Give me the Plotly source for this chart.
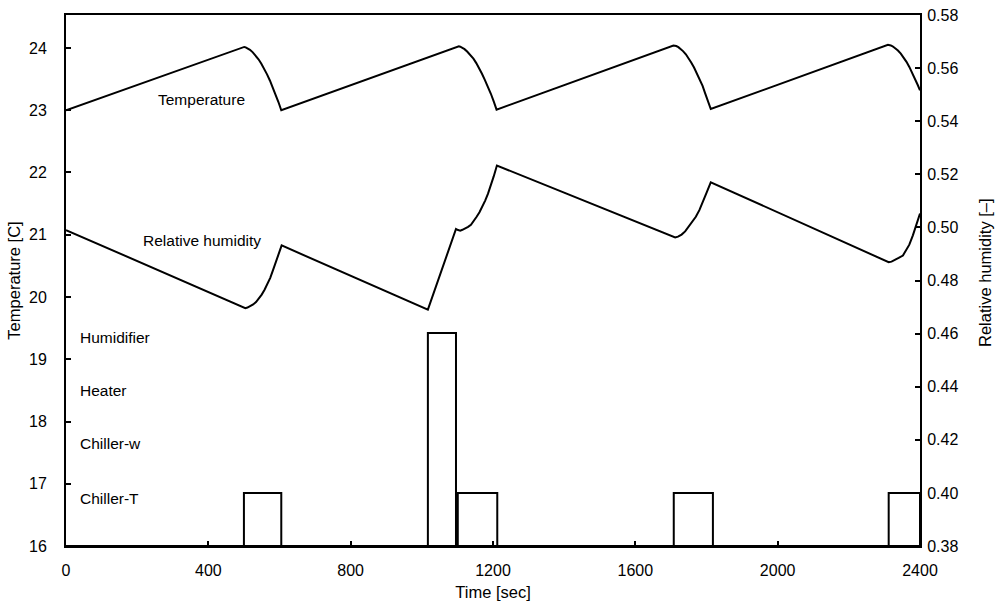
import plotly.graph_objects as go

# ---------------- data ----------------
time_T = [0,
          497, 501, 505, 511, 517, 525, 533, 541, 549, 557, 565, 573, 581, 589, 597, 605,
          1100, 1104, 1108, 1114, 1120, 1128, 1137, 1145, 1153, 1161, 1169, 1177, 1186, 1194, 1202, 1210,
          1707, 1711, 1715, 1721, 1727, 1734, 1742, 1750, 1757, 1765, 1773, 1781, 1789, 1796, 1804, 1812,
          2310, 2314, 2318, 2324, 2330, 2338, 2346, 2354, 2362, 2370, 2378, 2386, 2394, 2400]
temperature = [23.00,
               24.020, 24.017, 24.011, 23.994, 23.971, 23.930, 23.879, 23.818, 23.747, 23.666, 23.576, 23.478, 23.371, 23.255, 23.132, 23.000,
               24.030, 24.027, 24.021, 24.004, 23.981, 23.940, 23.889, 23.828, 23.757, 23.676, 23.586, 23.488, 23.381, 23.265, 23.142, 23.010,
               24.040, 24.037, 24.031, 24.014, 23.991, 23.950, 23.899, 23.838, 23.767, 23.686, 23.596, 23.498, 23.391, 23.275, 23.152, 23.020,
               24.050, 24.047, 24.041, 24.024, 24.001, 23.960, 23.909, 23.848, 23.777, 23.696, 23.606, 23.508, 23.401, 23.320]

time_RH = [0,
           497, 500, 504, 510, 518, 526, 534, 542, 550, 558, 566, 574, 582, 590, 598, 606,
           1017, 1096, 1100, 1104, 1108, 1114, 1122, 1130, 1138, 1146, 1154, 1162, 1170, 1178, 1186, 1194, 1202, 1211,
           1700, 1706, 1712, 1720, 1730, 1740, 1750, 1762, 1770, 1780, 1790, 1800, 1812,
           2300, 2306, 2312, 2320, 2330, 2340, 2352, 2360, 2370, 2380, 2390, 2400]
rel_humidity = [0.4990,
                0.4703, 0.4699, 0.4696, 0.4698, 0.4703, 0.4710, 0.4719, 0.4731, 0.4747, 0.4765, 0.4786, 0.4810, 0.4840, 0.4872, 0.4903, 0.4932,
                0.4690, 0.4994, 0.4991, 0.4988, 0.4988, 0.4991, 0.4996, 0.5002, 0.5010, 0.5024, 0.5040, 0.5057, 0.5077, 0.5101, 0.5127, 0.5158, 0.5192, 0.5233,
                0.4968, 0.4964, 0.4962, 0.4965, 0.4973, 0.4985, 0.5002, 0.5024, 0.5040, 0.5065, 0.5095, 0.5130, 0.5170,
                0.4875, 0.4871, 0.4869, 0.4871, 0.4877, 0.4885, 0.4894, 0.4910, 0.4935, 0.4970, 0.5012, 0.5052]

chillerT_on = [500, 1101, 1708, 2312]
chillerT_off = [605, 1212, 1818, 2400]
chillerT_level = 16.85

humidifier_on = [1017]
humidifier_off = [1096]
humidifier_level = 19.42

signal_base = 16.0
t_start, t_end = 0, 2400

x_ticks = [0, 400, 800, 1200, 1600, 2000, 2400]
y1_ticks = [16, 17, 18, 19, 20, 21, 22, 23, 24]
y2_ticks = [0.38, 0.40, 0.42, 0.44, 0.46, 0.48, 0.50, 0.52, 0.54, 0.56, 0.58]
y2_ticklabels = ["0.38", "0.40", "0.42", "0.44", "0.46", "0.48", "0.50", "0.52", "0.54", "0.56", "0.58"]

label_names = ["Humidifier", "Heater", "Chiller-w", "Chiller-T"]
label_levels = [19.35, 18.5, 17.64, 16.77]


def step_series(ons, offs, level):
    xs, ys = [t_start], [signal_base]
    for a, b in zip(ons, offs):
        xs += [a, a, b, b]
        ys += [signal_base, level, level, signal_base]
    xs.append(t_end)
    ys.append(signal_base)
    return xs, ys


FONT = "Liberation Sans, Arial, sans-serif"
line_style = dict(color="black", width=2)

fig = go.Figure()
fig.add_trace(go.Scatter(x=time_T, y=temperature, mode="lines", line=line_style,
                         name="Temperature"))
fig.add_trace(go.Scatter(x=time_RH, y=rel_humidity, mode="lines", line=line_style,
                         yaxis="y2", name="Relative humidity"))
cx, cy = step_series(chillerT_on, chillerT_off, chillerT_level)
fig.add_trace(go.Scatter(x=cx, y=cy, mode="lines", line=line_style, name="Chiller-T"))
hx, hy = step_series(humidifier_on, humidifier_off, humidifier_level)
fig.add_trace(go.Scatter(x=hx, y=hy, mode="lines", line=line_style, name="Humidifier"))

ann_font = dict(size=15.5, color="black", family=FONT)
annotations = [
    dict(x=380, y=23.17, text="Temperature", xref="x", yref="y", showarrow=False,
         xanchor="center", yanchor="middle", font=ann_font),
    dict(x=383, y=20.9, text="Relative humidity", xref="x", yref="y", showarrow=False,
         xanchor="center", yanchor="middle", font=ann_font),
    dict(x=1.0761, y=0.516, text="Relative humidity [–]", xref="paper", yref="paper",
         showarrow=False, textangle=-90, xanchor="center", yanchor="middle",
         font=dict(size=16.5, color="black", family=FONT)),
]
for name, lv in zip(label_names, label_levels):
    annotations.append(dict(x=33, y=lv, text=name, xref="x", yref="y", showarrow=False,
                            xanchor="left", yanchor="middle", font=ann_font))

fig.update_layout(
    width=995, height=603,
    margin=dict(l=66, r=75, t=15, b=57, autoexpand=False),
    plot_bgcolor="white", paper_bgcolor="white",
    showlegend=False,
    font=dict(family=FONT, color="black", size=16),
    xaxis=dict(range=[t_start, t_end], tickvals=x_ticks, ticks="inside", ticklen=5,
               tickwidth=1.5, tickcolor="black", showline=True, linecolor="black",
               linewidth=2, mirror=True, showgrid=False, zeroline=False, automargin=False,
               tickfont=dict(size=16), ticklabelstandoff=9,
               title=dict(text="Time [sec]", font=dict(size=16.5), standoff=8)),
    yaxis=dict(range=[16, 24.53], tickvals=y1_ticks, ticks="inside", ticklen=5,
               tickwidth=1.5, tickcolor="black", showline=True, linecolor="black",
               linewidth=2, showgrid=False, zeroline=False, automargin=False,
               tickfont=dict(size=16), ticklabelstandoff=14,
               title=dict(text="Temperature [C]", font=dict(size=16.5), standoff=4)),
    yaxis2=dict(range=[0.38, 0.58], tickvals=y2_ticks, ticktext=y2_ticklabels,
                overlaying="y", side="right", ticks="inside", ticklen=5,
                tickwidth=1.5, tickcolor="black", showline=True, linecolor="black",
                linewidth=2, showgrid=False, zeroline=False, automargin=False,
                tickfont=dict(size=16), ticklabelstandoff=2),
    annotations=annotations,
)

fig.write_html("out.html", config={"displayModeBar": False},
               post_script="document.body.style.margin='0';")
